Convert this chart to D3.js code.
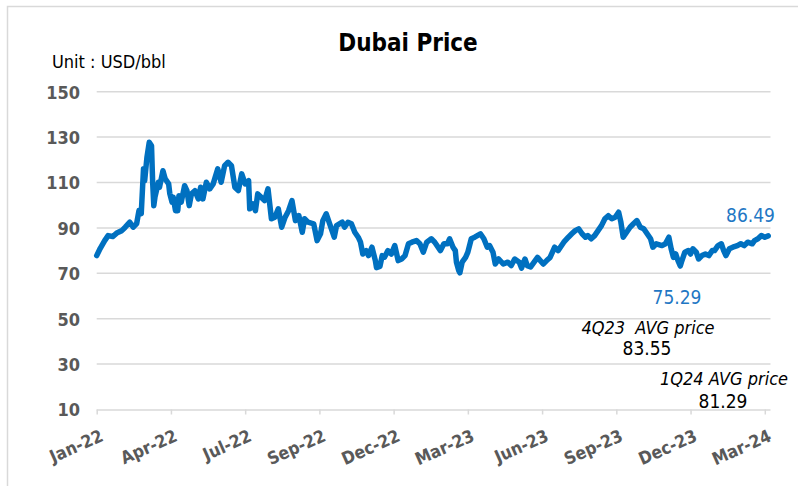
<!DOCTYPE html>
<html>
<head>
<meta charset="utf-8">
<script src="https://cdn.jsdelivr.net/npm/d3@7"></script>
<style>
  html, body { margin: 0; padding: 0; background: #ffffff; }
  svg { display: block; }
  text { font-family: "DejaVu Sans Condensed", "DejaVu Sans", sans-serif; }
</style>
</head>
<body>
<svg id="chart" width="798" height="486"></svg>
<script>
// ---- data ----
// trading-day index from the first day of Jan-22, and Dubai price (USD/bbl)
const days = [0,3,7,10,14,18,22,25,29,32,35,37,39,41,42,44,46,48,49,50,51,54,55,58,60,63,64,66,67,69,71,72,74,77,79,81,83,86,89,
  91,93,96,99,102,106,109,112,115,118,121,124,127,130,133,134,137,139,141,144,147,150,153,156,159,162,165,168,171,174,177,180,182,185,
  190,193,196,198,201,204,208,210,215,217,220,223,226,229,231,233,236,238,241,244,245,248,250,252,255,258,261,264,267,270,273,276,280,283,286,
  289,293,296,301,304,307,309,312,314,315,317,318,320,323,325,328,331,336,339,342,344,347,349,352,356,360,363,366,370,372,375,377,380,383,386,
  391,394,397,401,404,409,413,416,419,422,425,428,430,433,436,439,442,445,448,451,454,457,459,461,464,467,470,473,476,479,482,485,487,
  490,495,498,501,503,505,507,509,511,512,515,518,520,522,525,527,530,533,536,539,541,544,547,549,551,554,557,561,564,567,570,574,576,579,582,585,588];
const prices = [77.8,80.9,84.4,86.6,86.2,87.9,88.8,90.3,92.5,90.3,91.9,97.6,96.3,116.1,110.8,121.1,127.7,126.2,110.0,99.8,103.5,110.1,107.9,115.2,111.6,109.4,105.1,101.3,103.5,97.6,97.6,104.2,101.3,108.6,106.4,99.8,105.0,106.4,102.8,
  107.9,102.8,110.1,107.2,109.4,116.0,110.1,117.4,118.9,117.4,107.9,106.4,113.8,109.4,110.8,98.4,100.6,97.6,105.0,103.5,102.0,107.2,94.0,94.7,98.4,90.3,94.7,97.6,102.0,93.2,95.4,88.1,94.0,92.5,
  91.8,84.4,87.4,93.2,96.2,91.8,85.9,91.0,92.5,90.3,92.5,91.8,88.1,85.9,83.7,78.5,80.0,77.8,81.5,75.6,72.5,73.0,77.8,77.1,80.0,78.5,82.2,75.6,76.3,77.8,83.0,83.7,84.4,83.0,79.3,
  83.7,85.2,83.7,80.0,83.0,83.0,85.2,81.5,80.0,74.9,71.2,70.2,74.9,77.0,79.3,85.2,85.9,87.4,85.2,81.5,82.2,79.3,74.1,76.3,74.1,74.9,73.4,76.3,74.9,72.3,76.3,73.4,72.8,74.9,77.0,
  74.1,75.6,77.0,81.5,80.0,83.7,85.9,87.4,88.8,89.6,87.4,85.9,86.6,85.2,86.6,88.8,91.0,94.0,95.4,94.0,94.7,96.9,92.5,85.9,88.1,90.3,91.8,93.2,90.3,89.6,87.4,85.2,81.5,
  83.0,82.2,83.0,85.9,80.8,77.0,78.5,75.6,73.2,74.9,79.3,80.0,78.5,80.8,79.3,76.3,77.8,78.5,77.8,80.0,80.0,82.2,83.0,80.0,77.8,80.8,81.5,82.2,83.0,82.2,83.7,83.0,84.4,85.2,86.6,85.9,86.49];
const tickLabels = ["Jan-22","Apr-22","Jul-22","Sep-22","Dec-22","Mar-23","Jun-23","Sep-23","Dec-23","Mar-24"];
const tickDays = [0,65,130,195,260,325,390,455,520,585];
const yTicks = [10,30,50,70,90,110,130,150];
const lastPrice = "86.49";
const lowPrice = "75.29";
const avgLabels = ["4Q23  AVG price","1Q24 AVG price"];
const avgValues = ["83.55","81.29"];

// ---- drawing ----
const svg = d3.select("#chart");
const lineBlue = "#0070C0";
const gridGray = "#d9d9d9";
const labelGray = "#595959";

// outer chart border
svg.append("rect")
  .attr("x", 7.5).attr("y", 6.5)
  .attr("width", 820).attr("height", 500)
  .attr("fill", "none").attr("stroke", gridGray).attr("stroke-width", 1.5);

const x = d3.scaleLinear().domain([0, 590]).range([96.7, 770.5]);
const y = d3.scaleLinear().domain([10, 150]).range([409.5, 91.7]);

// gridlines
svg.append("g").selectAll("line")
  .data(yTicks.filter(v => v !== 10))
  .join("line")
  .attr("x1", x(0)).attr("x2", x(590))
  .attr("y1", d => y(d)).attr("y2", d => y(d))
  .attr("stroke", gridGray).attr("stroke-width", 1.5);

// y axis labels
const yAxis = d3.axisLeft(y).tickValues(yTicks).tickSize(0).tickPadding(0);
const gy = svg.append("g").attr("transform", "translate(80,0)").call(yAxis);
gy.select(".domain").remove();
gy.selectAll("text")
  .attr("x", 0).attr("dy", "0.36em")
  .attr("fill", labelGray)
  .style("font-size", "18px").style("font-weight", "bold")
  .style("font-family", '"DejaVu Sans Condensed", "DejaVu Sans", sans-serif');

// x axis
const xAxis = d3.axisBottom(x).tickValues(tickDays).tickSize(5)
  .tickFormat((d, i) => tickLabels[i]);
const gx = svg.append("g").attr("transform", `translate(0,${y(10)})`).call(xAxis);
gx.select(".domain").attr("stroke", gridGray).attr("stroke-width", 1.5)
  .attr("d", `M${x(0)},0.5H${x(590)}`);
gx.selectAll(".tick line").attr("stroke", gridGray).attr("stroke-width", 1.5);
gx.selectAll(".tick text")
  .attr("y", 0)
  .attr("text-anchor", "end")
  .attr("transform", "translate(2,19) rotate(-24)")
  .attr("dy", "0.73em")
  .attr("fill", labelGray)
  .style("font-size", "17.5px").style("font-weight", "bold")
  .style("font-family", '"DejaVu Sans Condensed", "DejaVu Sans", sans-serif');

// price line
const line = d3.line()
  .x((d, i) => x(days[i]))
  .y(d => y(d));
svg.append("path")
  .datum(prices)
  .attr("d", line)
  .attr("fill", "none")
  .attr("stroke", lineBlue)
  .attr("stroke-width", 5.5)
  .attr("stroke-linejoin", "round")
  .attr("stroke-linecap", "round");

// title and unit
svg.append("text").attr("x", 408).attr("y", 51)
  .attr("text-anchor", "middle")
  .style("font-size", "24px").style("font-weight", "bold")
  .attr("fill", "#000").text("Dubai Price");
svg.append("text").attr("x", 52).attr("y", 68)
  .style("font-size", "18px").attr("fill", "#000").text("Unit : USD/bbl");

// annotations
svg.append("text").attr("x", 750.5).attr("y", 222).attr("text-anchor", "middle")
  .style("font-size", "19px").attr("fill", "#1f77c4").text(lastPrice);
svg.append("text").attr("x", 677).attr("y", 304).attr("text-anchor", "middle")
  .style("font-size", "19px").attr("fill", "#1f77c4").text(lowPrice);
svg.append("text").attr("x", 648).attr("y", 334).attr("text-anchor", "middle")
  .style("font-size", "18px").style("font-style", "italic").attr("fill", "#000")
  .style("white-space", "pre").text(avgLabels[0]);
svg.append("text").attr("x", 647).attr("y", 355).attr("text-anchor", "middle")
  .style("font-size", "19px").attr("fill", "#000").text(avgValues[0]);
svg.append("text").attr("x", 724).attr("y", 385).attr("text-anchor", "middle")
  .style("font-size", "18px").style("font-style", "italic").attr("fill", "#000").text(avgLabels[1]);
svg.append("text").attr("x", 723).attr("y", 408).attr("text-anchor", "middle")
  .style("font-size", "19px").attr("fill", "#000").text(avgValues[1]);
</script>
</body>
</html>
